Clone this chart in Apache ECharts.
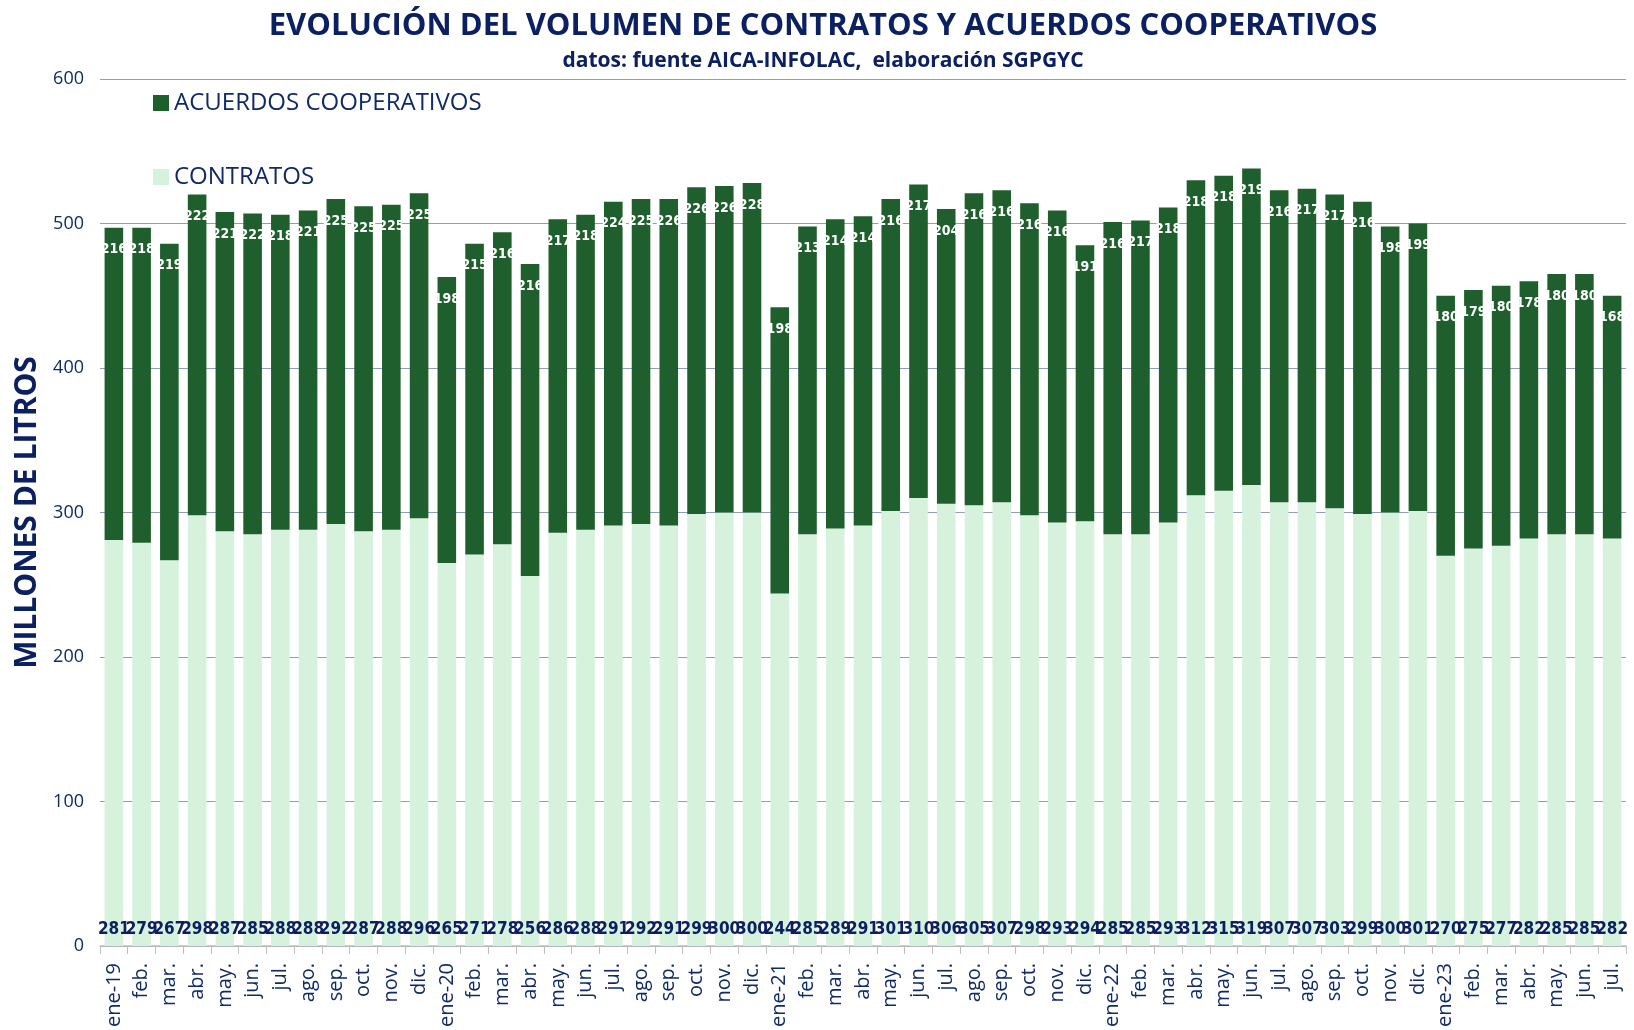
<!DOCTYPE html>
<html>
<head>
<meta charset="utf-8">
<script src="https://cdn.jsdelivr.net/npm/echarts@6/dist/echarts.min.js"></script>
<style>
  html, body { margin: 0; padding: 0; background: #fff; }
  #chart { width: 1634px; height: 1030px; }
</style>
</head>
<body>
<div id="chart"></div>
<script>
// meses ene-19 .. jul-23
const months = [
  'ene-19', 'feb.', 'mar.', 'abr.', 'may.', 'jun.', 'jul.', 'ago.', 'sep.', 'oct.', 'nov.', 'dic.',
  'ene-20', 'feb.', 'mar.', 'abr.', 'may.', 'jun.', 'jul.', 'ago.', 'sep.', 'oct.', 'nov.', 'dic.',
  'ene-21', 'feb.', 'mar.', 'abr.', 'may.', 'jun.', 'jul.', 'ago.', 'sep.', 'oct.', 'nov.', 'dic.',
  'ene-22', 'feb.', 'mar.', 'abr.', 'may.', 'jun.', 'jul.', 'ago.', 'sep.', 'oct.', 'nov.', 'dic.',
  'ene-23', 'feb.', 'mar.', 'abr.', 'may.', 'jun.', 'jul.'
]
const contratos = [
  281, 279, 267, 298, 287, 285, 288, 288, 292, 287, 288, 296,
  265, 271, 278, 256, 286, 288, 291, 292, 291, 299, 300, 300,
  244, 285, 289, 291, 301, 310, 306, 305, 307, 298, 293, 294,
  285, 285, 293, 312, 315, 319, 307, 307, 303, 299, 300, 301,
  270, 275, 277, 282, 285, 285, 282
]
const acuerdos = [
  216, 218, 219, 222, 221, 222, 218, 221, 225, 225, 225, 225,
  198, 215, 216, 216, 217, 218, 224, 225, 226, 226, 226, 228,
  198, 213, 214, 214, 216, 217, 204, 216, 216, 216, 216, 191,
  216, 217, 218, 218, 218, 219, 216, 217, 217, 216, 198, 199,
  180, 179, 180, 178, 180, 180, 168
]

const navy = '#0f2a66'
const condensed = '"DejaVu Sans Condensed", "Roboto", sans-serif'
const chart = echarts.init(document.getElementById('chart'))
chart.setOption({
  animation: false,
  textStyle: { fontFamily: 'Open Sans' },
  title: [{
    text: 'EVOLUCIÓN DEL VOLUMEN DE CONTRATOS Y ACUERDOS COOPERATIVOS',
    left: 818,
    textAlign: 'center',
    top: 6,
    textStyle: { fontSize: 31, fontWeight: 'bold', color: '#0b2060', fontFamily: 'Open Sans' }
  }, {
    text: 'datos: fuente AICA-INFOLAC,  elaboración SGPGYC',
    left: 818,
    textAlign: 'center',
    top: 46,
    textStyle: { fontSize: 21, fontWeight: 'bold', color: '#0b2060', fontFamily: 'Open Sans' }
  }],
  legend: {
    orient: 'vertical',
    left: 148,
    top: 86,
    itemGap: 50,
    itemWidth: 16,
    itemHeight: 16,
    icon: 'rect',
    data: ['ACUERDOS COOPERATIVOS', 'CONTRATOS'],
    textStyle: { fontSize: 24, color: navy, fontFamily: 'Open Sans' }
  },
  grid: { left: 100, right: 8, top: 79, bottom: 81 },
  xAxis: {
    type: 'category',
    data: months,
    axisLine: { lineStyle: { color: '#bfbfbf', width: 1.5 } },
    axisTick: { show: true, length: 8, lineStyle: { color: '#bfbfbf' } },
    axisLabel: { rotate: 90, interval: 0, fontSize: 20, color: navy, margin: 17 }
  },
  yAxis: {
    type: 'value',
    min: 0,
    max: 600,
    interval: 100,
    name: 'MILLONES DE LITROS',
    nameLocation: 'middle',
    nameGap: 55,
    nameTextStyle: { fontSize: 30, fontWeight: 'bold', color: '#0b2060' },
    axisLine: { show: false },
    axisTick: { show: false },
    axisLabel: { fontSize: 18, color: navy, margin: 16 },
    splitLine: { lineStyle: { color: '#8d9cc0', width: 1.2 } }
  },
  series: [
    {
      name: 'CONTRATOS',
      type: 'bar',
      stack: 'total',
      data: contratos,
      barCategoryGap: '33%',
      itemStyle: { color: '#d6f1dc' },
      label: {
        show: true,
        position: 'insideBottom',
        distance: 8,
        fontFamily: condensed,
        fontWeight: 'bold',
        fontSize: 17,
        color: '#0b2060'
      }
    },
    {
      name: 'ACUERDOS COOPERATIVOS',
      type: 'bar',
      stack: 'total',
      data: acuerdos,
      barCategoryGap: '33%',
      itemStyle: { color: '#1f5f2d' },
      label: {
        show: true,
        position: 'insideTop',
        distance: 15,
        fontFamily: condensed,
        fontWeight: 'bold',
        fontSize: 14,
        color: '#ffffff'
      }
    }
  ]
})
</script>
</body>
</html>
